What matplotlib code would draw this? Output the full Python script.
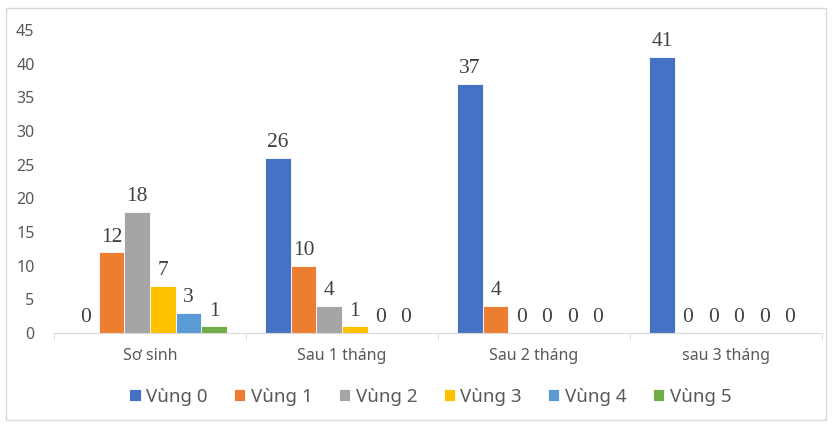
import matplotlib.pyplot as plt
import numpy as np
from matplotlib.patches import Rectangle

categories = ["Sơ sinh", "Sau 1 tháng", "Sau 2 tháng", "sau 3 tháng"]
series_names = ["Vùng 0", "Vùng 1", "Vùng 2", "Vùng 3", "Vùng 4", "Vùng 5"]
vung0 = [0, 26, 37, 41]
vung1 = [12, 10, 4, 0]
vung2 = [18, 4, 0, 0]
vung3 = [7, 1, 0, 0]
vung4 = [3, 0, 0, 0]
vung5 = [1, 0, 0, 0]
series = [vung0, vung1, vung2, vung3, vung4, vung5]
colors = ["#4472C4", "#ED7D31", "#A5A5A5", "#FFC000", "#5B9BD5", "#70AD47"]

fig = plt.figure(figsize=(8.33, 4.28), dpi=100)
ax = fig.add_axes([54 / 833, 0.222, 768 / 833, 0.708])

n = len(series)
width = 0.8 / n
x = np.arange(len(categories))
for i, (vals, name, c) in enumerate(zip(series, series_names, colors)):
    pos = x - 0.4 + width * (i + 0.5)
    ax.bar(pos, vals, width, color=c, edgecolor="white", linewidth=0.6, label=name)
    for xp, v in zip(pos, vals):
        ax.annotate(str(v), (xp, v), xytext=(0, 4), textcoords="offset points",
                    ha="center", va="bottom", fontsize=15.5, color="#404040",
                    family="Liberation Serif")

ax.set_xlim(-0.5, len(categories) - 0.5)
ax.set_ylim(0, 45)
ax.set_yticks(range(0, 46, 5))
for s in ["top", "right", "left"]:
    ax.spines[s].set_visible(False)
ax.spines["bottom"].set_color("#D9D9D9")
ax.tick_params(axis="y", length=0, labelsize=11.5, labelcolor="#595959", pad=14)
ax.set_xticks(x)
ax.set_xticklabels(categories)
ax.tick_params(axis="x", length=0, labelsize=11.5, labelcolor="#595959", pad=11)
ax.set_xticks(np.arange(-0.5, len(categories)), minor=True)
ax.tick_params(axis="x", which="minor", length=5, color="#D9D9D9")
for lab in ax.get_xticklabels() + ax.get_yticklabels():
    lab.set_family("Noto Sans")

ax.legend(loc="upper center", bbox_to_anchor=(0.49, -0.125), ncol=6, frameon=False,
          prop={"family": "Noto Sans", "size": 13.5}, handlelength=0.6, handleheight=0.6,
          handletextpad=0.3, columnspacing=1.4, labelcolor="#595959")

fig.patches.append(Rectangle((6 / 833, 1 - 420 / 428), 820 / 833, 412 / 428,
                             transform=fig.transFigure, fill=False,
                             edgecolor="#D9D9D9", linewidth=1))

fig.savefig("out.png", dpi=100)
